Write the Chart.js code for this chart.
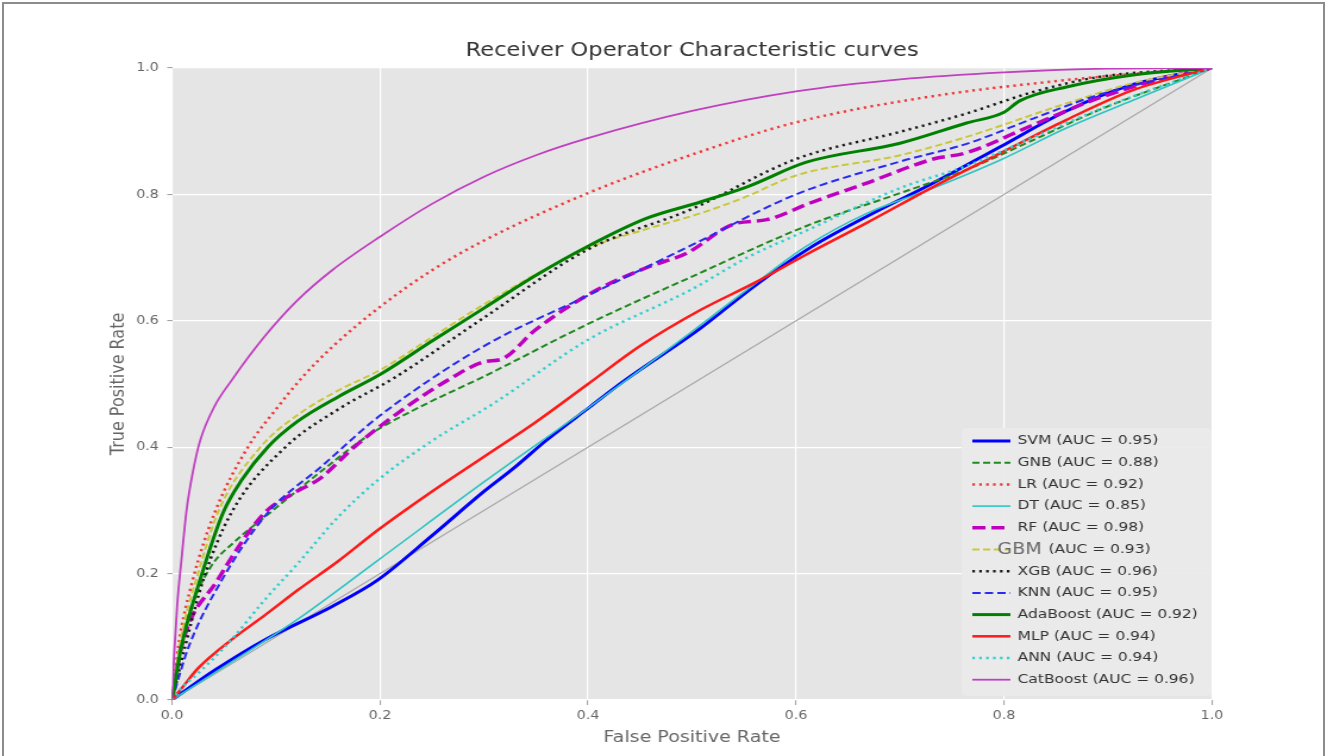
<!DOCTYPE html>
<html>
<head>
<meta charset="utf-8">
<script src="https://cdn.jsdelivr.net/npm/chart.js@4.4.1/dist/chart.umd.min.js"></script>
<style>
    html, body { margin: 0; padding: 0; background: #fff; }
    #wrap { position: relative; width: 1327px; height: 756px; overflow: hidden; }
    /* the source figure is stretched sideways, so the canvas is too */
    #roc { width: 1327px; height: 756px; }
    #frame { position: absolute; left: 2px; top: 2px; right: 2px; bottom: -10px; border: 2px solid #8c8c8c; pointer-events: none; }
</style>
</head>
<body>
<div id="wrap">
    <canvas id="roc" width="1115" height="756" style="width:1327px;height:756px"></canvas>
    <div id="frame"></div>
</div>
<script>
// Models and their AUC as printed in the legend
const models = ['SVM', 'GNB', 'LR', 'DT', 'RF', 'GBM', 'XGB', 'KNN', 'AdaBoost', 'MLP', 'ANN', 'CatBoost'];
const aucs = [0.95, 0.88, 0.92, 0.85, 0.98, 0.93, 0.96, 0.95, 0.92, 0.94, 0.94, 0.96];
const tickValues = [0, 0.2, 0.4, 0.6, 0.8, 1.0];

// ROC points [fpr, tpr]
const svm = [[0,0],[0.041,0.047],[0.089,0.095],[0.154,0.148],[0.198,0.19],[0.25,0.26],[0.3,0.33],[0.328,0.366],[0.36,0.411],[0.402,0.464],[0.434,0.504],[0.508,0.588],[0.56,0.655],[0.613,0.715],[0.668,0.765],[0.732,0.818],[0.796,0.875],[0.86,0.932],[0.924,0.974],[1,1]];
const gnb = [[0,0],[0.005,0.06],[0.015,0.13],[0.037,0.21],[0.06,0.25],[0.094,0.296],[0.142,0.36],[0.19,0.42],[0.24,0.465],[0.3,0.512],[0.4,0.595],[0.5,0.67],[0.61,0.75],[0.7,0.802],[0.764,0.839],[0.828,0.886],[0.892,0.934],[1,1]];
const lr = [[0,0],[0.006,0.084],[0.02,0.19],[0.041,0.296],[0.073,0.4],[0.1,0.46],[0.125,0.51],[0.155,0.56],[0.2,0.622],[0.25,0.68],[0.3,0.727],[0.4,0.802],[0.5,0.863],[0.6,0.914],[0.73,0.955],[0.86,0.981],[0.95,0.994],[1,1]];
const dt = [[0,0],[0.057,0.06],[0.121,0.128],[0.198,0.221],[0.3,0.345],[0.4,0.462],[0.5,0.583],[0.56,0.658],[0.61,0.718],[0.668,0.77],[0.732,0.81],[0.796,0.854],[0.86,0.905],[0.924,0.949],[1,1]];
const rf = [[0,0],[0.009,0.084],[0.044,0.19],[0.089,0.296],[0.12,0.33],[0.142,0.35],[0.175,0.4],[0.224,0.462],[0.265,0.506],[0.3,0.535],[0.318,0.54],[0.349,0.585],[0.402,0.643],[0.456,0.684],[0.495,0.707],[0.54,0.753],[0.572,0.76],[0.613,0.786],[0.668,0.818],[0.732,0.856],[0.764,0.866],[0.828,0.91],[0.892,0.953],[0.957,0.985],[1,1]];
const gbm = [[0,0],[0.009,0.1],[0.025,0.2],[0.045,0.3],[0.085,0.4],[0.12,0.45],[0.16,0.49],[0.2,0.522],[0.25,0.574],[0.3,0.626],[0.4,0.715],[0.456,0.745],[0.508,0.77],[0.55,0.795],[0.6,0.83],[0.7,0.862],[0.764,0.891],[0.86,0.944],[0.924,0.976],[1,1]];
const xgb = [[0,0],[0.0125,0.084],[0.03,0.19],[0.057,0.296],[0.109,0.4],[0.16,0.46],[0.214,0.51],[0.3,0.605],[0.4,0.713],[0.5,0.777],[0.6,0.856],[0.7,0.899],[0.764,0.928],[0.828,0.962],[0.892,0.986],[1,1]];
const knn = [[0,0],[0.016,0.084],[0.048,0.19],[0.092,0.296],[0.144,0.37],[0.2,0.45],[0.3,0.56],[0.4,0.64],[0.5,0.72],[0.6,0.8],[0.7,0.852],[0.764,0.88],[0.828,0.92],[0.892,0.958],[1,1]];
const ada = [[0,0],[0.009,0.084],[0.027,0.19],[0.049,0.296],[0.067,0.348],[0.092,0.4],[0.12,0.44],[0.16,0.48],[0.2,0.515],[0.25,0.568],[0.3,0.62],[0.35,0.672],[0.4,0.718],[0.456,0.762],[0.508,0.788],[0.553,0.812],[0.61,0.851],[0.7,0.881],[0.764,0.913],[0.8,0.93],[0.815,0.948],[0.86,0.97],[0.924,0.989],[1,1]];
const mlp = [[0,0],[0.01,0.02],[0.025,0.05],[0.057,0.095],[0.09,0.135],[0.121,0.174],[0.16,0.22],[0.198,0.269],[0.25,0.33],[0.3,0.385],[0.35,0.44],[0.4,0.5],[0.45,0.56],[0.508,0.617],[0.56,0.66],[0.61,0.705],[0.668,0.755],[0.732,0.812],[0.796,0.865],[0.86,0.918],[0.924,0.965],[1,1]];
const ann = [[0,0],[0.01,0.02],[0.025,0.042],[0.057,0.095],[0.09,0.16],[0.121,0.216],[0.16,0.29],[0.198,0.348],[0.25,0.41],[0.31,0.47],[0.4,0.57],[0.5,0.65],[0.553,0.7],[0.613,0.745],[0.7,0.81],[0.764,0.845],[0.828,0.89],[0.9,0.94],[1,1]];
const cat = [[0,0],[0.002,0.07],[0.005,0.15],[0.009,0.22],[0.014,0.3],[0.02,0.36],[0.027,0.41],[0.041,0.465],[0.057,0.505],[0.089,0.575],[0.121,0.633],[0.154,0.68],[0.2,0.733],[0.25,0.785],[0.3,0.828],[0.35,0.862],[0.4,0.889],[0.5,0.932],[0.6,0.963],[0.7,0.982],[0.8,0.993],[0.9,0.999],[1,1]];
const chance = [[0,0],[1,1]];

const curves = [svm, gnb, lr, dt, rf, gbm, xgb, knn, ada, mlp, ann, cat];

// matplotlib-ish line styles: b-, g--, r:, c-, m--, y--, k:, b--, g-, r-, c:, m-
const styles = [
    { color: '#0000ff', width: 3,   dash: [] },
    { color: '#1f8a1f', width: 2,   dash: [6, 3] },
    { color: '#f03a3a', width: 2.5, dash: [2.2, 3.6] },
    { color: '#2ec4c4', width: 1.6, dash: [] },
    { color: '#c000c0', width: 3.5, dash: [11, 5] },
    { color: '#c8c83a', width: 2,   dash: [6, 3] },
    { color: '#1a1a1a', width: 2.5, dash: [2.2, 3.6] },
    { color: '#2a2af0', width: 2,   dash: [7, 3.5] },
    { color: '#008000', width: 3,   dash: [] },
    { color: '#ff1a1a', width: 2.5, dash: [] },
    { color: '#30d0d0', width: 2.5, dash: [2.2, 3.6] },
    { color: '#c040c0', width: 1.8, dash: [] },
];

const font = 'DejaVu Sans';

const toXY = pts => pts.map(p => ({ x: p[0], y: p[1] }));

const datasets = curves.map((pts, i) => ({
    label: models[i] + ' (AUC = ' + aucs[i].toFixed(2) + ')',
    data: toXY(pts),
    borderColor: styles[i].color,
    borderWidth: styles[i].width,
    borderDash: styles[i].dash,
    pointRadius: 0,
    fill: false,
    cubicInterpolationMode: 'monotone',
    order: curves.length - i,
}));
datasets.push({
    label: 'chance',
    data: toXY(chance),
    borderColor: '#a8a8a8',
    borderWidth: 1.2,
    pointRadius: 0,
    fill: false,
    order: 99,
});

// grey panel behind the plot, like the ggplot style
const panelBg = {
    id: 'panelBg',
    beforeDraw(chart) {
        const { ctx, chartArea: a } = chart;
        ctx.save();
        ctx.fillStyle = '#e5e5e5';
        ctx.fillRect(a.left, a.top, a.right - a.left, a.bottom - a.top);
        ctx.restore();
    },
};

// title centred on the plot area
const plotTitle = {
    id: 'plotTitle',
    afterDraw(chart) {
        const { ctx, chartArea: a } = chart;
        ctx.save();
        ctx.fillStyle = '#333';
        ctx.font = '19px "' + font + '"';
        ctx.textAlign = 'center';
        ctx.textBaseline = 'middle';
        ctx.fillText('Receiver Operator Characteristic curves', (a.left + a.right) / 2, 51);
        ctx.restore();
    },
};

// legend box in the lower right of the plot
const rocLegend = {
    id: 'rocLegend',
    afterDraw(chart) {
        const { ctx } = chart;
        const x0 = 808, y0 = 428, w = 210, h = 268;
        ctx.save();
        ctx.fillStyle = 'rgba(234,234,234,0.9)';
        ctx.beginPath();
        ctx.roundRect(x0, y0, w, h, 4);
        ctx.fill();

        ctx.textBaseline = 'middle';
        models.forEach((m, i) => {
            const ds = chart.data.datasets[i];
            const y = 441 + i * 21.7;
            ctx.strokeStyle = ds.borderColor;
            ctx.lineWidth = ds.borderWidth;
            ctx.setLineDash(ds.borderDash);
            ctx.beginPath();
            ctx.moveTo(817, y);
            ctx.lineTo(849, y);
            ctx.stroke();
            ctx.setLineDash([]);

            const rest = '(AUC = ' + aucs[i].toFixed(2) + ')';
            if (m === 'GBM') {
                // the name is smeared over the handle in the original
                ctx.fillStyle = '#6a6a6a';
                ctx.font = '16px "' + font + '"';
                ctx.fillText(m, 838, y);
                ctx.fillStyle = '#333';
                ctx.font = '13px "' + font + '"';
                ctx.fillText(rest, 881, y);
            } else {
                ctx.fillStyle = '#333';
                ctx.font = '13px "' + font + '"';
                ctx.fillText(m + ' ' + rest, 855, y);
            }
        });
        ctx.restore();
    },
};

const tickFont = { family: font, size: 12 };
const axisTitleFont = { family: font, size: 16 };

new Chart(document.getElementById('roc'), {
    type: 'line',
    data: { datasets },
    options: {
        responsive: false,
        animation: false,
        layout: { padding: { left: 84, right: 96.6, top: 68, bottom: 6 } },
        plugins: {
            legend: { display: false },
            tooltip: { enabled: false },
            title: { display: false },
        },
        scales: {
            x: {
                type: 'linear',
                min: 0,
                max: 1,
                afterFit: s => { s.height = 50; },
                afterBuildTicks: s => { s.ticks = tickValues.map(v => ({ value: v })); },
                ticks: { callback: v => v.toFixed(1), color: '#666', font: tickFont, padding: 4, maxRotation: 0 },
                grid: { color: '#ffffff', lineWidth: 1.2, tickLength: 5, tickColor: '#9a9a9a', tickWidth: 1 },
                border: { display: false },
                title: { display: true, text: 'False Positive Rate', color: '#666', font: axisTitleFont, padding: { top: 4, bottom: 3 } },
            },
            y: {
                type: 'linear',
                min: 0,
                max: 1,
                afterFit: s => { s.width = 60.5; },
                afterBuildTicks: s => { s.ticks = tickValues.map(v => ({ value: v })); },
                ticks: { callback: v => v.toFixed(1), color: '#666', font: tickFont, padding: 7 },
                grid: { color: '#ffffff', lineWidth: 1.2, tickLength: 4, tickColor: '#9a9a9a', tickWidth: 1 },
                border: { display: false },
                title: { display: true, text: 'True Positive Rate', color: '#666', font: axisTitleFont, padding: { top: 6, bottom: 4 } },
            },
        },
    },
    plugins: [panelBg, plotTitle, rocLegend],
});
</script>
</body>
</html>
